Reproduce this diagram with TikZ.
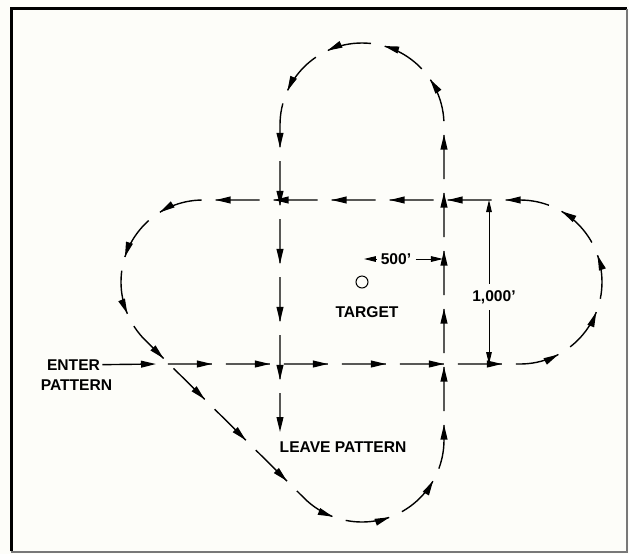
\documentclass[tikz,border=0pt]{standalone}
\usepackage{fontspec}
\setmainfont{Liberation Sans}
\usetikzlibrary{arrows.meta,decorations.markings}

\definecolor{paper}{RGB}{253,253,249}
\definecolor{rim}{RGB}{120,120,120}

\begin{document}
\begin{tikzpicture}[x=0.5pt,y=-0.5pt,
        lbl/.style={font=\bfseries\fontsize{7.8}{9}\selectfont,inner sep=1pt},
        leg/.style={line width=0.7pt,dash pattern=on 22pt off 7pt,
          -{Triangle[length=7.5pt,width=3.4pt]},
          postaction={decorate,decoration={markings,
            mark=between positions 22pt and -10pt step 29pt with {\arrow{Triangle[length=7.5pt,width=3.4pt]}}}}},
        dim/.style={line width=0.45pt,-{Triangle[length=6pt,width=2.8pt]}}]
      \fill[paper] (0,0) rectangle (629,554);
      \useasboundingbox (0,0) rectangle (629,554);
      \draw[line width=1.5pt] (11.5,551) -- (11.5,8.5) -- (627,8.5);
      \draw[rim,line width=0.6pt] (627,8.5) -- (627,552) -- (11.5,552);

      \node[circle,draw,line width=0.5pt,inner sep=0pt,minimum size=6pt] (target) at (362,282) {};
      \node[lbl] (tgtlabel) at (367,312) {TARGET};
      \node[lbl] (enter) at (73.5,365) {ENTER};
      \node[lbl] (pattern) at (76.5,385) {PATTERN};
      \node[lbl] (leave) at (343,447) {LEAVE PATTERN};
      \node[lbl,inner sep=2pt] (d500) at (396,259) {500’};
      \node[lbl,inner sep=3pt] (d1000) at (494,297) {1,000’};

      \coordinate (entry) at (156,364);
      \coordinate (a500) at (364,259);
      \coordinate (b500) at (443,259);
      \coordinate (top1000) at (489,200);
      \coordinate (bot1000) at (489,364);

      \draw[leg] (168,364) -- (520,364)
        arc[start angle=90,end angle=-90,radius=82] -- (203,200)
        arc[start angle=-90,end angle=-225,radius=82] -- (304.02,497.98)
        arc[start angle=135,end angle=0,radius=82] -- (444,125)
        arc[start angle=0,end angle=-180,radius=82] -- (280,432);

      \draw[line width=0.7pt,-{Triangle[length=7.5pt,width=3.4pt]}] (enter) -- (entry);
      \draw[dim] (d500) -- (a500);
      \draw[dim] (d500) -- (b500);
      \draw[dim] (d1000.north -| top1000) -- (top1000);
      \draw[dim] (d1000.south -| bot1000) -- (bot1000);
    \end{tikzpicture}
\end{document}
